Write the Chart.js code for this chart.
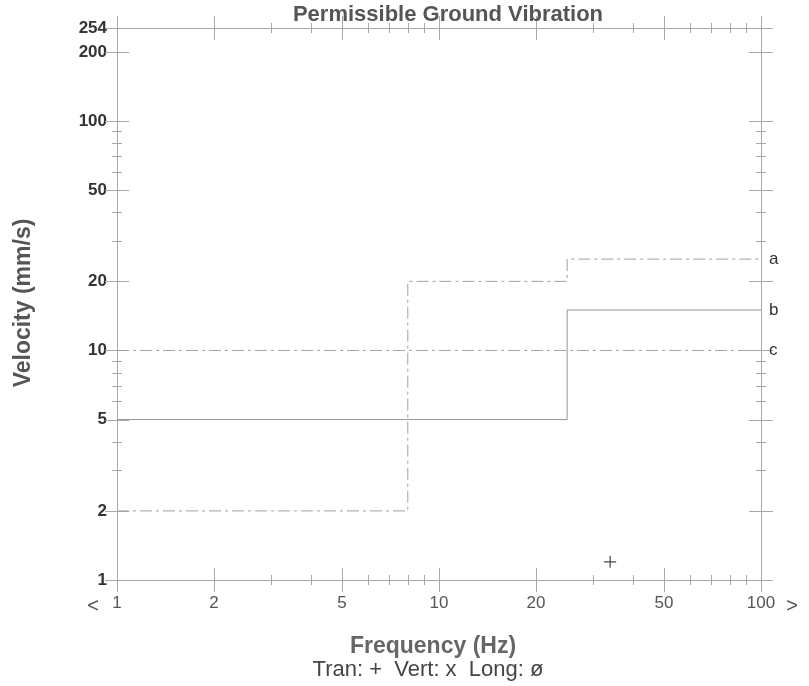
<!DOCTYPE html>
<html><head><meta charset="utf-8">
<script src="https://cdn.jsdelivr.net/npm/chart.js@4/dist/chart.umd.min.js"></script>
<style>html,body{margin:0;padding:0;background:#fff;} #wrap{width:809px;height:686px;position:relative;}</style>
</head><body><div id="wrap"><canvas id="c" width="809" height="686"></canvas></div>
<script>
// ---- data ----
const freqTicks = [1, 2, 5, 10, 20, 50, 100];
const freqMinor = [3, 4, 6, 7, 8, 9, 30, 40, 60, 70, 80, 90];
const velTicks = [1, 2, 5, 10, 20, 50, 100, 200, 254];
const velMinor = [3, 4, 6, 7, 8, 9, 30, 40, 60, 70, 80, 90];

const lineAFreq = [1, 8, 25, 100];
const lineAVel  = [2, 20, 25, 25];
const lineBFreq = [1, 25, 100];
const lineBVel  = [5, 15, 15];
const lineCFreq = [1, 100];
const lineCVel  = [10, 10];
const lineNames = ['a', 'b', 'c'];

const tranFreq = [34];
const tranVel  = [1.2];
const vertFreq = [];
const vertVel  = [];
const longFreq = [];
const longVel  = [];

const titleText = 'Permissible Ground Vibration';
const xTitle = 'Frequency (Hz)';
const yTitle = 'Velocity (mm/s)';
const legendText = 'Tran: +  Vert: x  Long: \u00f8';

const pts = (xs, ys) => xs.map((x, i) => ({x: x, y: ys[i]}));
const FONT = "'Liberation Sans', Arial, sans-serif";

const framePlugin = {
  id: 'frame',
  beforeDatasetsDraw(chart) {
    const ctx = chart.ctx, a = chart.chartArea;
    const xs = chart.scales.x, ys = chart.scales.y;
    ctx.save();
    ctx.strokeStyle = '#a8a8a8';
    ctx.lineWidth = 1;
    ctx.strokeRect(a.left + 0.5, a.top + 0.5, a.right - a.left, a.bottom - a.top);
    ctx.beginPath();
    const hx = (px, py, len) => { ctx.moveTo(px - len, py); ctx.lineTo(px + len, py); };
    const vx = (px, py, len) => { ctx.moveTo(px, py - len); ctx.lineTo(px, py + len); };
    freqTicks.concat(freqMinor).forEach(v => {
      const len = freqTicks.includes(v) ? 12 : 5;
      const px = Math.round(xs.getPixelForValue(v)) + 0.5;
      vx(px, a.top, len); vx(px, a.bottom, len);
    });
    velTicks.concat(velMinor).forEach(v => {
      const len = velTicks.includes(v) ? 12 : 5;
      const py = Math.round(ys.getPixelForValue(v)) + 0.5;
      hx(a.left, py, len); hx(a.right, py, len);
    });
    ctx.stroke();
    ctx.restore();
  },
  afterDraw(chart) {
    const ctx = chart.ctx, a = chart.chartArea;
    ctx.save();
    ctx.textAlign = 'center';
    ctx.textBaseline = 'middle';
    ctx.fillStyle = '#555';
    ctx.font = 'bold 22px ' + FONT;
    ctx.fillText(titleText, 448, 15);
    ctx.fillStyle = '#666';
    ctx.font = 'bold 23px ' + FONT;
    ctx.fillText(xTitle, 433, 647);
    ctx.fillStyle = '#444';
    ctx.font = '22px ' + FONT;
    ctx.fillText(legendText, 428, 670);
    ctx.fillStyle = '#555';
    ctx.font = '20px ' + FONT;
    ctx.fillText('<', 93, 606);
    ctx.fillText('>', 792, 606);
    ctx.save();
    ctx.translate(24, 303);
    ctx.rotate(-Math.PI / 2);
    ctx.fillStyle = '#555';
    ctx.font = 'bold 23px ' + FONT;
    ctx.fillText(yTitle, 0, 0);
    ctx.restore();
    // line labels
    ctx.textAlign = 'left';
    ctx.fillStyle = '#333';
    ctx.font = '17px ' + FONT;
    lineNames.forEach((n, i) => {
      const meta = chart.getDatasetMeta(i);
      const last = meta.data[meta.data.length - 1];
      ctx.fillText(n, last.x + 8, last.y);
    });
    ctx.restore();
  }
};

const lineStyle = (dash, color) => ({
  type: 'line', stepped: 'before', borderColor: color, borderWidth: 1,
  borderDash: dash, pointRadius: 0, fill: false, tension: 0
});

new Chart(document.getElementById('c'), {
  type: 'line',
  data: {
    datasets: [
      Object.assign({label: 'a', data: pts(lineAFreq, lineAVel)}, lineStyle([12, 4, 3, 4], '#a0a0a0')),
      Object.assign({label: 'b', data: pts(lineBFreq, lineBVel)}, lineStyle([], '#959595')),
      Object.assign({label: 'c', data: pts(lineCFreq, lineCVel)}, lineStyle([12, 4, 3, 4], '#a4a4a4')),
      {label: 'Tran', type: 'scatter', data: pts(tranFreq, tranVel), showLine: false,
       pointStyle: 'cross', pointRadius: 6, borderColor: '#444', backgroundColor: '#444', borderWidth: 1.2},
      {label: 'Vert', type: 'scatter', data: pts(vertFreq, vertVel), showLine: false,
       pointStyle: 'crossRot', pointRadius: 6, borderColor: '#444', borderWidth: 1.2},
      {label: 'Long', type: 'scatter', data: pts(longFreq, longVel), showLine: false,
       pointStyle: 'circle', pointRadius: 5, borderColor: '#444', borderWidth: 1.2}
    ]
  },
  options: {
    responsive: false,
    animation: false,
    events: [],
    layout: {padding: {top: 28, right: 48, bottom: 0, left: 0}},
    plugins: {legend: {display: false}, title: {display: false}, tooltip: {enabled: false}},
    scales: {
      x: {
        type: 'logarithmic', min: 1, max: 100, position: 'bottom',
        afterBuildTicks: s => { s.ticks = freqTicks.map(v => ({value: v})); },
        afterFit: s => { s.height = 106; },
        grid: {display: false, drawTicks: false},
        border: {display: false},
        ticks: {autoSkip: false, maxRotation: 0, padding: 13, color: '#555',
                font: {family: FONT, size: 17}, callback: v => String(v)}
      },
      y: {
        type: 'logarithmic', min: 1, max: 254, position: 'left',
        afterBuildTicks: s => { s.ticks = velTicks.map(v => ({value: v})); },
        afterFit: s => { s.width = 117; },
        grid: {display: false, drawTicks: false},
        border: {display: false},
        ticks: {autoSkip: false, padding: 10, color: '#333',
                font: {family: FONT, size: 17, weight: 'bold'}, callback: v => String(v)}
      }
    }
  },
  plugins: [framePlugin]
});
</script>
</body></html>
